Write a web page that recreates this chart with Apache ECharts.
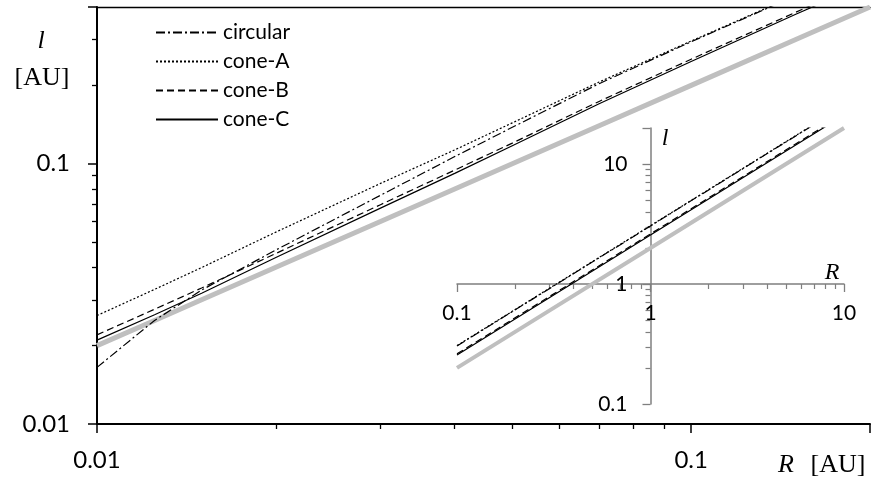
<!DOCTYPE html>
<html><head><meta charset="utf-8">
<script src="https://cdn.jsdelivr.net/npm/echarts@6/dist/echarts.min.js"></script>
<style>html,body{margin:0;padding:0;background:#fff}#c{width:873px;height:488px}</style>
</head><body><div id="c"></div>
<script>
const seriesNames = ['circular', 'cone-A', 'cone-B', 'cone-C'];
const mainR = [0.01, 0.0125, 0.015, 0.02, 0.03, 0.04, 0.05, 0.07, 0.1, 0.15, 0.2];
const mainCircular = [0.0165, 0.0250, 0.0327, 0.0466, 0.0756, 0.1065, 0.1380, 0.2030, 0.294, 0.442, 0.590];
const mainConeA = [0.0261, 0.0329, 0.0399, 0.0546, 0.0840, 0.1130, 0.1435, 0.2060, 0.296, 0.444, 0.592];
const mainConeB = [0.0220, 0.0276, 0.0333, 0.0452, 0.0696, 0.0945, 0.1200, 0.1735, 0.252, 0.382, 0.510];
const mainConeC = [0.0210, 0.0263, 0.0318, 0.0436, 0.0675, 0.0918, 0.1172, 0.1700, 0.247, 0.375, 0.500];
const mainGray = [0.02, 0.025, 0.03, 0.04, 0.06, 0.08, 0.10, 0.14, 0.20, 0.30, 0.40];
const insetR = [0.1, 0.3, 1, 3, 10];
const insetCircular = [0.305, 0.915, 3.05, 9.15, 30.5];
const insetConeA = [0.307, 0.921, 3.07, 9.21, 30.7];
const insetConeB = [0.262, 0.786, 2.62, 7.86, 26.2];
const insetConeC = [0.256, 0.768, 2.56, 7.68, 25.6];
const insetGray = [0.2, 0.6, 2, 6, 20];
const mainXTickLabels = ['0.01', '0.1'];
const mainYTickLabels = ['0.01', '0.1'];
const insetXTickLabels = ['0.1', '1', '10'];
const insetYTickLabels = ['0.1', '1', '10'];

const SANS = 'Lato, "Open Sans", sans-serif';
const SERIF = '"Liberation Serif", "DejaVu Serif", serif';
const fmt = list => v => { const s = String(+(+v).toPrecision(6)); return list.includes(s) ? s : ''; };
const pairs = (xs, ys) => xs.map((x, i) => [x, ys[i]]);
const styles = { 'circular': [9, 3, 2, 3], 'cone-A': [2, 2], 'cone-B': [7, 4], 'cone-C': 'solid' };
const mainData = { 'circular': mainCircular, 'cone-A': mainConeA, 'cone-B': mainConeB, 'cone-C': mainConeC };
const insetData = { 'circular': insetCircular, 'cone-A': insetConeA, 'cone-B': insetConeB, 'cone-C': insetConeC };

function mainAxis(extra) {
  return Object.assign({
    type: 'log', logBase: 10,
    axisLine: { show: true, onZero: false, lineStyle: { color: '#000', width: 2 } },
    axisTick: { show: true, length: 9, lineStyle: { color: '#000', width: 1.5 } },
    minorTick: { show: true, splitNumber: 9, length: 5, lineStyle: { color: '#000', width: 1.3 } },
    splitLine: { show: false }, minorSplitLine: { show: false }
  }, extra);
}
function insetAxis(extra) {
  return Object.assign({
    type: 'log', logBase: 10,
    axisLine: { show: true, onZero: false, lineStyle: { color: '#7f7f7f', width: 1.5 } },
    axisTick: { show: true, length: 8, lineStyle: { color: '#7f7f7f', width: 1.3 } },
    minorTick: { show: true, splitNumber: 9, length: 5, lineStyle: { color: '#7f7f7f', width: 1.2 } },
    splitLine: { show: false }, minorSplitLine: { show: false }
  }, extra);
}
const series = [];
seriesNames.forEach(n => {
  series.push({ name: n, type: 'line', xAxisIndex: 0, yAxisIndex: 0, data: pairs(mainR, mainData[n]),
    symbol: 'none', lineStyle: { color: '#000', width: 1.2, type: styles[n] }, itemStyle: { color: '#000' }, animation: false, z: 3 });
});
series.push({ name: 'reference', type: 'line', xAxisIndex: 0, yAxisIndex: 0, data: pairs(mainR, mainGray),
  symbol: 'none', lineStyle: { color: '#bfbfbf', width: 5 }, animation: false, z: 2 });
seriesNames.forEach(n => {
  series.push({ name: n, type: 'line', xAxisIndex: 2, yAxisIndex: 1, data: pairs(insetR, insetData[n]),
    symbol: 'none', lineStyle: { color: '#000', width: 1.2, type: styles[n] }, itemStyle: { color: '#000' }, animation: false, z: 3 });
});
series.push({ name: 'reference', type: 'line', xAxisIndex: 2, yAxisIndex: 1, data: pairs(insetR, insetGray),
  symbol: 'none', lineStyle: { color: '#bfbfbf', width: 4 }, animation: false, z: 2 });
const option = {
  animation: false, backgroundColor: '#fff',
  grid: [ { left: 97, right: 0, top: 7, bottom: 64 }, { left: 457, right: 29, top: 128, bottom: 84 } ],
  legend: { data: seriesNames, orient: 'vertical', left: 150, top: 17, itemWidth: 62, itemHeight: 12, itemGap: 8,
    itemStyle: { opacity: 0 }, textStyle: { fontSize: 21, fontFamily: SANS, color: '#000' } },
  xAxis: [
    mainAxis({ gridIndex: 0, position: 'bottom', min: 0.01, max: 0.2,
      axisLabel: { color: '#000', fontSize: 24, fontFamily: SANS, margin: 24, formatter: fmt(mainXTickLabels) } }),
    { type: 'log', gridIndex: 0, position: 'top', min: 0.01, max: 0.2,
      axisLine: { show: true, onZero: false, lineStyle: { color: '#000', width: 1.3 } },
      axisTick: { show: false }, axisLabel: { show: false }, splitLine: { show: false } },
    insetAxis({ gridIndex: 1, position: 'bottom', offset: -120, min: 0.1, max: 10,
      axisLabel: { color: '#000', fontSize: 21, fontFamily: SANS, margin: 19, formatter: fmt(insetXTickLabels) } })
  ],
  yAxis: [
    mainAxis({ gridIndex: 0, position: 'left', min: 0.01, max: 0.4,
      axisLabel: { color: '#000', fontSize: 24, fontFamily: SANS, margin: 27, formatter: fmt(mainYTickLabels) } }),
    insetAxis({ gridIndex: 1, position: 'left', offset: -193.5, min: 0.1, max: 20,
      axisLabel: { color: '#000', fontSize: 21, fontFamily: SANS, margin: 23, formatter: fmt(insetYTickLabels) } })
  ],
  graphic: [
    { type: 'text', x: 41, y: 41, style: { text: 'l', fontSize: 26, fontStyle: 'italic', fontFamily: SERIF, fill: '#000', align: 'center', verticalAlign: 'middle' } },
    { type: 'text', x: 42, y: 78, style: { text: '[AU]', fontSize: 26, fontFamily: SERIF, fill: '#000', align: 'center', verticalAlign: 'middle' } },
    { type: 'text', x: 786, y: 465, style: { text: 'R', fontSize: 26, fontStyle: 'italic', fontFamily: SERIF, fill: '#000', align: 'center', verticalAlign: 'middle' } },
    { type: 'text', x: 838, y: 465, style: { text: '[AU]', fontSize: 26, fontFamily: SERIF, fill: '#000', align: 'center', verticalAlign: 'middle' } },
    { type: 'text', x: 665, y: 139, style: { text: 'l', fontSize: 24, fontStyle: 'italic', fontFamily: SERIF, fill: '#000', align: 'center', verticalAlign: 'middle' } },
    { type: 'text', x: 832, y: 273, style: { text: 'R', fontSize: 24, fontStyle: 'italic', fontFamily: SERIF, fill: '#000', align: 'center', verticalAlign: 'middle' } }
  ],
  series: series
};
const chart = echarts.init(document.getElementById('c'));
chart.setOption(option);
</script></body></html>
